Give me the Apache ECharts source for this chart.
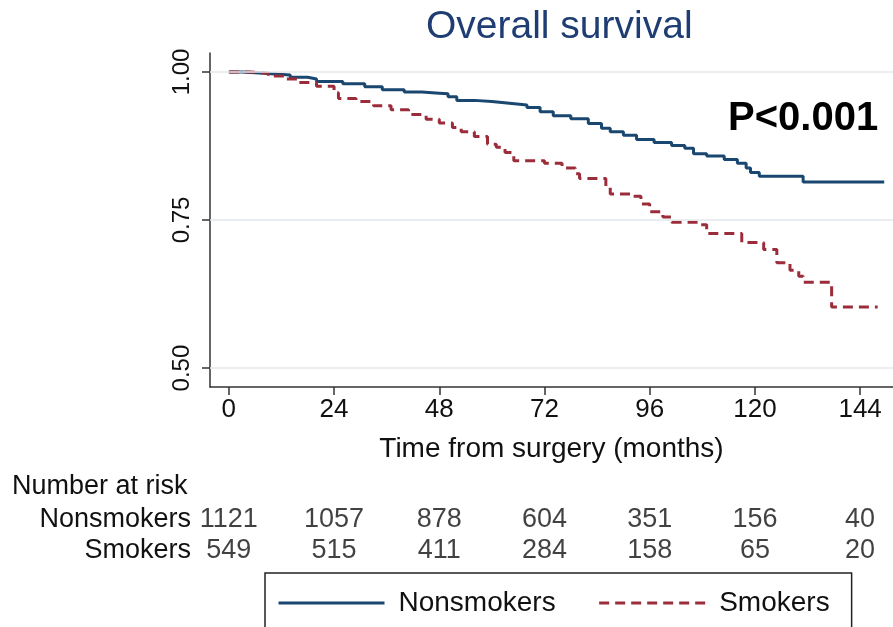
<!DOCTYPE html>
<html>
<head>
<meta charset="utf-8">
<script src="https://cdn.jsdelivr.net/npm/echarts@6/dist/echarts.min.js"></script>
<style>
html,body{margin:0;padding:0;background:#fff;}
#chart{width:893px;height:627px;}
</style>
</head>
<body>
<div id="chart"></div>
<script>
// ---- data ----
var nonsmokersTime = [0,3,8,14,18,20,26,31,35,40,44,48,50,52,56,60,64,68,71,74,78,82,85,87,90,93,97,101,104,106,109,113,116,118,119,121,131,149.5];
var nonsmokersSurv = [1.000,0.998,0.995,0.991,0.988,0.984,0.980,0.975,0.970,0.966,0.964,0.963,0.958,0.952,0.950,0.947,0.944,0.940,0.933,0.926,0.921,0.913,0.905,0.899,0.893,0.886,0.881,0.876,0.871,0.862,0.858,0.852,0.846,0.838,0.830,0.824,0.814,0.814];
var smokersTime = [0,5,9,13,16,20,24,25,29,33,37,41,45,48,51,53,56,59,61,63,65,72,76,79,80,86,87,92,94,96,99,101,107,109,117,122,125,128,130,131,137.5,148];
var smokersSurv = [1.000,0.998,0.993,0.988,0.982,0.976,0.965,0.955,0.950,0.943,0.936,0.928,0.920,0.914,0.906,0.899,0.891,0.878,0.873,0.864,0.850,0.846,0.838,0.828,0.820,0.806,0.794,0.790,0.777,0.764,0.755,0.746,0.742,0.727,0.712,0.700,0.678,0.665,0.655,0.645,0.603,0.603];
var xTicks = [0,24,48,72,96,120,144];
var yTicks = [0.50,0.75,1.00];
var riskNonsmokers = [1121,1057,878,604,351,156,40];
var riskSmokers = [549,515,411,284,158,65,20];
var groups = ['Nonsmokers','Smokers'];

function pairs(t, s){ return t.map(function(v,i){ return [v, s[i]]; }); }
function riskData(arr, row){ return arr.map(function(n,i){ return [xTicks[i], row, n]; }); }

var FONT = "'Liberation Sans', Arial, sans-serif";
var xMin = -4.3, xMax = 151.5;
var BLUE = '#1a476f', RED = '#9b2d3a';

var chart = echarts.init(document.getElementById('chart'));
chart.setOption({
  animation: false,
  backgroundColor: '#ffffff',
  textStyle: {fontFamily: FONT},
  title: {
    text: 'Overall survival',
    left: 421, top: 3,
    textStyle: {color: '#1f3d73', fontSize: 39, fontWeight: 'normal', fontFamily: FONT}
  },
  graphic: [
    {type: 'text', left: 728, top: 99, style: {text: 'P<0.001', font: "bold 40px 'Liberation Sans', Arial, sans-serif", fill: '#000'}},
    {type: 'text', left: 12, top: 473, style: {text: 'Number at risk', font: "27px 'Liberation Sans', Arial, sans-serif", fill: '#111'}}
  ],
  legend: {
    data: groups,
    left: 265, top: 573,
    padding: [16, 22, 24, 12],
    itemWidth: 106, itemHeight: 14, itemGap: 42,
    borderColor: '#222', borderWidth: 1.5,
    itemStyle: {opacity: 0},
    lineStyle: {width: 3},
    textStyle: {fontSize: 28, color: '#111', fontFamily: FONT, padding: [0, 0, 0, 9]}
  },
  grid: [
    {left: 210, right: 0, top: 53, height: 334},
    {left: 210, right: 0, top: 504, height: 62}
  ],
  xAxis: [
    {
      type: 'value', gridIndex: 0, min: xMin, max: xMax,
      name: 'Time from surgery (months)', nameLocation: 'middle', nameGap: 48,
      nameTextStyle: {fontSize: 28, color: '#111', fontFamily: FONT},
      axisLine: {show: true, onZero: false, lineStyle: {color: '#333', width: 1.5}},
      axisTick: {show: true, length: 8, customValues: xTicks, lineStyle: {color: '#333', width: 1.5}},
      axisLabel: {customValues: xTicks, fontSize: 26, color: '#111', margin: 10, fontFamily: FONT},
      splitLine: {show: false}
    },
    {
      type: 'value', gridIndex: 1, min: xMin, max: xMax, show: false
    }
  ],
  yAxis: [
    {
      type: 'value', gridIndex: 0, min: 0.468, max: 1.032,
      axisLine: {show: true, onZero: false, lineStyle: {color: '#333', width: 1.5}},
      axisTick: {show: true, length: 8, customValues: yTicks, lineStyle: {color: '#333', width: 1.5}},
      axisLabel: {customValues: yTicks, rotate: 90, fontSize: 24, color: '#111', margin: 16, fontFamily: FONT,
        formatter: function(v){ return v.toFixed(2); }},
      splitLine: {show: false}
    },
    {
      type: 'category', gridIndex: 1, data: ['Smokers','Nonsmokers'],
      axisLine: {show: false}, axisTick: {show: false},
      axisLabel: {interval: 0, fontSize: 27, color: '#111', margin: 19, fontFamily: FONT}
    }
  ],
  series: [
    {
      name: 'gridlines', type: 'line', xAxisIndex: 0, yAxisIndex: 0, z: 1,
      data: [[0, 1]], symbol: 'none', lineStyle: {opacity: 0}, silent: true,
      markLine: {
        silent: true, symbol: 'none', label: {show: false},
        lineStyle: {color: '#e4e9ec', width: 1.5, type: 'solid'},
        data: yTicks.map(function(v){ return {yAxis: v}; })
      }
    },
    {
      name: 'Nonsmokers', type: 'line', step: 'end', z: 3,
      xAxisIndex: 0, yAxisIndex: 0,
      data: pairs(nonsmokersTime, nonsmokersSurv),
      symbol: 'none',
      lineStyle: {color: BLUE, width: 3, type: 'solid'},
      itemStyle: {color: BLUE}
    },
    {
      name: 'Smokers', type: 'line', step: 'end', z: 3,
      xAxisIndex: 0, yAxisIndex: 0,
      data: pairs(smokersTime, smokersSurv),
      symbol: 'none',
      lineStyle: {color: RED, width: 3, type: [10, 6]},
      itemStyle: {color: RED}
    },
    {
      name: 'riskN', type: 'scatter', xAxisIndex: 1, yAxisIndex: 1,
      symbolSize: 0, data: riskData(riskNonsmokers, 'Nonsmokers'),
      label: {show: true, position: 'inside', fontSize: 27, color: '#111', fontFamily: FONT,
        formatter: function(p){ return String(p.value[2]); }}
    },
    {
      name: 'riskS', type: 'scatter', xAxisIndex: 1, yAxisIndex: 1,
      symbolSize: 0, data: riskData(riskSmokers, 'Smokers'),
      label: {show: true, position: 'inside', fontSize: 27, color: '#111', fontFamily: FONT,
        formatter: function(p){ return String(p.value[2]); }}
    }
  ]
});
</script>
</body>
</html>
